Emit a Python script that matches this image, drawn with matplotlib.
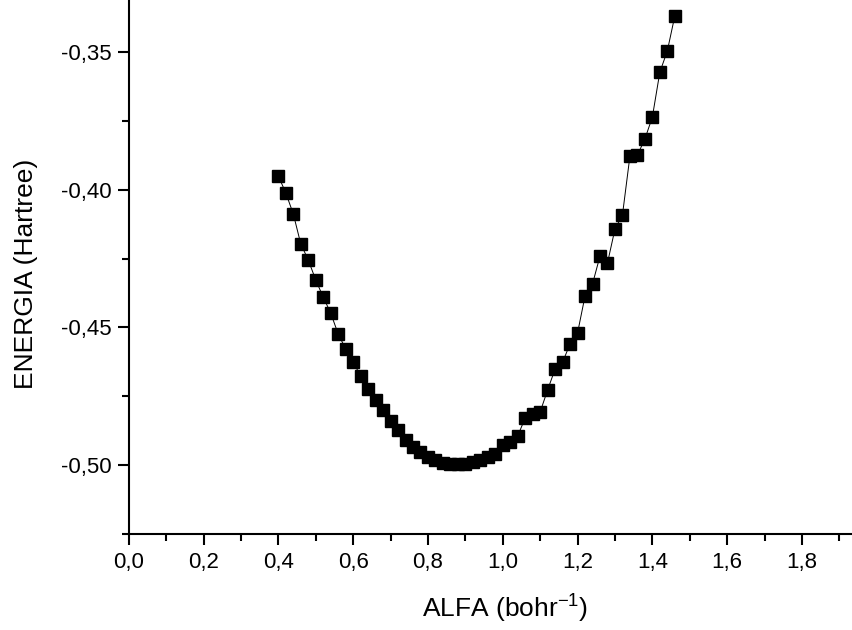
import matplotlib
matplotlib.use("Agg")
import matplotlib.pyplot as plt
from matplotlib.ticker import MultipleLocator, FuncFormatter

plt.rcParams['font.family'] = ['Liberation Sans', 'DejaVu Sans']
plt.rcParams['mathtext.fontset'] = 'custom'
plt.rcParams['mathtext.rm'] = 'Liberation Sans'
plt.rcParams['mathtext.it'] = 'Liberation Sans'
plt.rcParams['mathtext.default'] = 'regular'

alfa = [0.40, 0.42, 0.44, 0.46, 0.48, 0.50, 0.52, 0.54, 0.56, 0.58,
        0.60, 0.62, 0.64, 0.66, 0.68, 0.70, 0.72, 0.74, 0.76, 0.78,
        0.80, 0.82, 0.84, 0.86, 0.88, 0.90, 0.92, 0.94, 0.96, 0.98,
        1.00, 1.02, 1.04, 1.06, 1.08, 1.10, 1.12, 1.14, 1.16, 1.18,
        1.20, 1.22, 1.24, 1.26, 1.28, 1.30, 1.32, 1.34, 1.36, 1.38,
        1.40, 1.42, 1.44, 1.46]
energia = [-0.3950, -0.4012, -0.4088, -0.4197, -0.4255, -0.4328, -0.4390, -0.4448, -0.4524, -0.4578,
           -0.4626, -0.4676, -0.4723, -0.4763, -0.4800, -0.4840, -0.4872, -0.4909, -0.4934, -0.4952,
           -0.4971, -0.4981, -0.4992, -0.4996, -0.4996, -0.4996, -0.4989, -0.4981, -0.4971, -0.4960,
           -0.4927, -0.4916, -0.4894, -0.4829, -0.4814, -0.4807, -0.4727, -0.4651, -0.4626, -0.4560,
           -0.4520, -0.4386, -0.4342, -0.4241, -0.4266, -0.4143, -0.4092, -0.3878, -0.3874, -0.3816,
           -0.3736, -0.3573, -0.3496, -0.3369]

W, H = 852, 630
fig = plt.figure(figsize=(W / 100, H / 100), dpi=100)
ax = fig.add_axes([0.1511, 0.1525, 0.849, 0.8475])

ax.plot(alfa, energia, color='black', lw=0.7, marker='s', markersize=8,
        markerfacecolor='black', markeredgecolor='black')

ax.set_xlim(0, 1.934)
ax.set_ylim(-0.525, -0.3311)

ax.xaxis.set_major_locator(MultipleLocator(0.2))
ax.xaxis.set_minor_locator(MultipleLocator(0.1))
ax.yaxis.set_major_locator(MultipleLocator(0.05))
ax.yaxis.set_minor_locator(MultipleLocator(0.025))

def fmt(v, nd):
    return f"{v:.{nd}f}".replace('.', ',')

ax.xaxis.set_major_formatter(FuncFormatter(lambda v, p: fmt(v, 1)))
ax.yaxis.set_major_formatter(FuncFormatter(lambda v, p: fmt(v, 2)))

for s in ['top', 'right']:
    ax.spines[s].set_visible(False)
for s in ['left', 'bottom']:
    ax.spines[s].set_linewidth(1.5)

ax.tick_params(which='major', direction='out', length=8, width=1.5, labelsize=16)
ax.tick_params(axis='y', which='major', pad=4)
ax.tick_params(axis='x', which='major', pad=5)
ax.tick_params(which='minor', direction='out', length=5, width=1.5)

fig.text(505 / W, 1 - 609 / H, 'ALFA (bohr$^{\\mathrm{-1}}$)', fontsize=19,
         ha='center', va='center')
fig.text(26 / W, 1 - 274 / H, 'ENERGIA (Hartree)', fontsize=19,
         ha='center', va='center', rotation=90)

fig.savefig('out.png', dpi=100)
